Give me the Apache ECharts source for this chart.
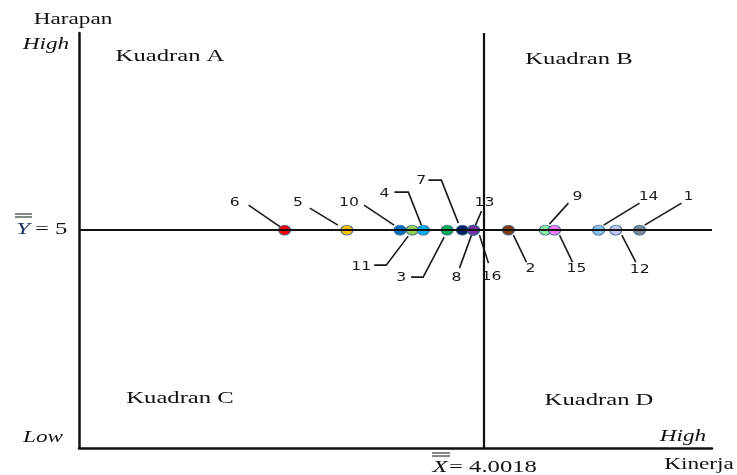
<!DOCTYPE html>
<html>
<head>
<meta charset="utf-8">
<title>Kuadran Kinerja - Harapan</title>
<script src="https://cdn.jsdelivr.net/npm/echarts@6/dist/echarts.min.js"></script>
<style>
  html, body { margin: 0; padding: 0; background: #fff; }
  #chart { width: 737px; height: 475px; }
</style>
</head>
<body>
<div id="chart"></div>
<script>
// data
var labels = ['1', '2', '3', '4', '5', '6', '7', '8', '9', '10', '11', '12', '13', '14', '15', '16'];
var kinerja = [4.307, 4.048, 3.927, 3.880, 3.729, 3.606, 3.957, 3.979, 4.121, 3.834, 3.858, 4.260, 3.979, 4.226, 4.139, 3.979];
var harapan = [5, 5, 5, 5, 5, 5, 5, 5, 5, 5, 5, 5, 5, 5, 5, 5];
var xMean = 4.0018;
var yMean = 5;

// styles
var colors = ['#7f8a96', '#843c0c', '#00b050', '#00b0f0', '#ffc000', '#ff0000', '#002060', '#7030a0',
              '#8ff0a0', '#0070c0', '#92d050', '#c3c6f5', '#7030a0', '#8cc4f0', '#f57cf0', '#7030a0'];

// leader line + label offsets (px, relative to the point)
var guides = [
    { line: [[42, -27], [5, -5]], text: [49, -33] },
    { line: [[18, 32], [5, 5]], text: [22, 39] },
    { line: [[-36, 47], [-24, 47], [-3, 7]], text: [-46, 48] },
    { line: [[-29, -38], [-15, -38], [-2, -5]], text: [-39, -36] },
    { line: [[-37, -22], [-9, -5]], text: [-49, -27] },
    { line: [[-36, -25], [-4, -3]], text: [-50, -27] },
    { line: [[-34, -50], [-21, -50], [-4, -7]], text: [-41, -49] },
    { line: [[-14, 38], [-2, 5]], text: [-17, 48] },
    { line: [[23, -27], [4, -6]], text: [32, -33] },
    { line: [[-36, -25], [-6, -5]], text: [-51, -27] },
    { line: [[-38, 35], [-26, 35], [-4, 6]], text: [-51, 37] },
    { line: [[20, 32], [6, 5]], text: [24, 40] },
    { line: [[8, -19], [2, -5]], text: [11, -27] },
    { line: [[41, -27], [5, -5]], text: [50, -33] },
    { line: [[18, 32], [5, 5]], text: [22, 39] },
    { line: [[15, 33], [6, 5]], text: [18, 47] }
];

var chart = echarts.init(document.getElementById('chart'));

var points = labels.map(function (l, i) {
    return { value: [kinerja[i], harapan[i]], itemStyle: { color: colors[i] } };
});
// draw left to right so overlaps stack like the original
var drawOrder = points.slice().sort(function (a, b) { return a.value[0] - b.value[0]; });

var serif = '"Liberation Serif", "Times New Roman", serif';
var SX = 1.45;

function txt(str, x, y, opt) {
    opt = opt || {};
    return {
        type: 'text', x: x, y: y, scaleX: SX,
        style: {
            text: str, fill: opt.color || '#111', font: (opt.italic ? 'italic ' : '') + (opt.size || 16) + 'px ' + serif,
            align: opt.align || 'center', verticalAlign: 'middle'
        }
    };
}

var option = {
    animation: false,
    grid: { left: 79, right: 25, top: 33, bottom: 27 },
    xAxis: {
        type: 'value', min: 3.2, max: 4.45,
        axisLine: { show: true, lineStyle: { color: '#111', width: 2.5 } },
        axisTick: { show: false }, axisLabel: { show: false }, splitLine: { show: false }
    },
    yAxis: {
        type: 'value', min: 0.8, max: 8.8,
        axisLine: { show: true, lineStyle: { color: '#111', width: 2.5 } },
        axisTick: { show: false }, axisLabel: { show: false }, splitLine: { show: false }
    },
    graphic: [
        txt('Harapan', 73, 20),
        txt('High', 46, 45, { italic: true }),
        txt('Kuadran A', 170, 57, { size: 17 }),
        txt('Kuadran B', 579, 60, { size: 17 }),
        txt('Kuadran C', 180, 399, { size: 17 }),
        txt('Kuadran D', 599, 401, { size: 17 }),
        txt('Low', 43, 438, { italic: true }),
        txt('High', 683, 437, { italic: true }),
        txt('Kinerja', 699, 465),
        // X double bar = mean
        txt('X', 440, 468, { italic: true, size: 17 }),
        txt('= ' + xMean.toFixed(4), 449, 468, { size: 17, align: 'left' }),
        { type: 'line', shape: { x1: 432, y1: 453, x2: 450, y2: 453 }, style: { stroke: '#111', lineWidth: 1 } },
        { type: 'line', shape: { x1: 432, y1: 456, x2: 450, y2: 456 }, style: { stroke: '#111', lineWidth: 1 } },
        // Y double bar = mean
        txt('Y', 23, 230, { italic: true, size: 17, color: '#1f3864' }),
        txt('= ' + yMean, 35, 230, { size: 17, align: 'left' }),
        { type: 'line', shape: { x1: 15, y1: 214, x2: 32, y2: 214 }, style: { stroke: '#111', lineWidth: 1 } },
        { type: 'line', shape: { x1: 15, y1: 217, x2: 32, y2: 217 }, style: { stroke: '#111', lineWidth: 1 } }
    ],
    series: [
        {
            type: 'custom',
            z: 1,
            data: labels.map(function (l, i) { return [kinerja[i], harapan[i]]; }),
            renderItem: function (params, api) {
                var i = params.dataIndex;
                var p = api.coord([api.value(0), api.value(1)]);
                var g = guides[i];
                var pts = g.line.map(function (d) { return [p[0] + d[0], p[1] + d[1]]; });
                return {
                    type: 'group',
                    children: [
                        { type: 'polyline', shape: { points: pts }, style: { stroke: '#1a1a1a', lineWidth: 1.6, fill: null } },
                        {
                            type: 'text', x: p[0] + g.text[0], y: p[1] + g.text[1], scaleX: 1.25,
                            style: {
                                text: labels[i], fill: '#1a1a1a', font: '12.5px "DejaVu Sans", Verdana, sans-serif',
                                align: 'center', verticalAlign: 'middle'
                            }
                        }
                    ]
                };
            },
            markLine: {
                silent: true,
                symbol: 'none',
                label: { show: false },
                lineStyle: { color: '#111', width: 2.2, type: 'solid' },
                data: [{ xAxis: xMean }, { yAxis: yMean }]
            }
        },
        {
            type: 'scatter',
            z: 3,
            symbol: 'circle',
            symbolSize: [12, 10],
            itemStyle: { borderColor: '#3f6c96', borderWidth: 1, opacity: 1 },
            data: drawOrder
        }
    ]
};

chart.setOption(option);
</script>
</body>
</html>
